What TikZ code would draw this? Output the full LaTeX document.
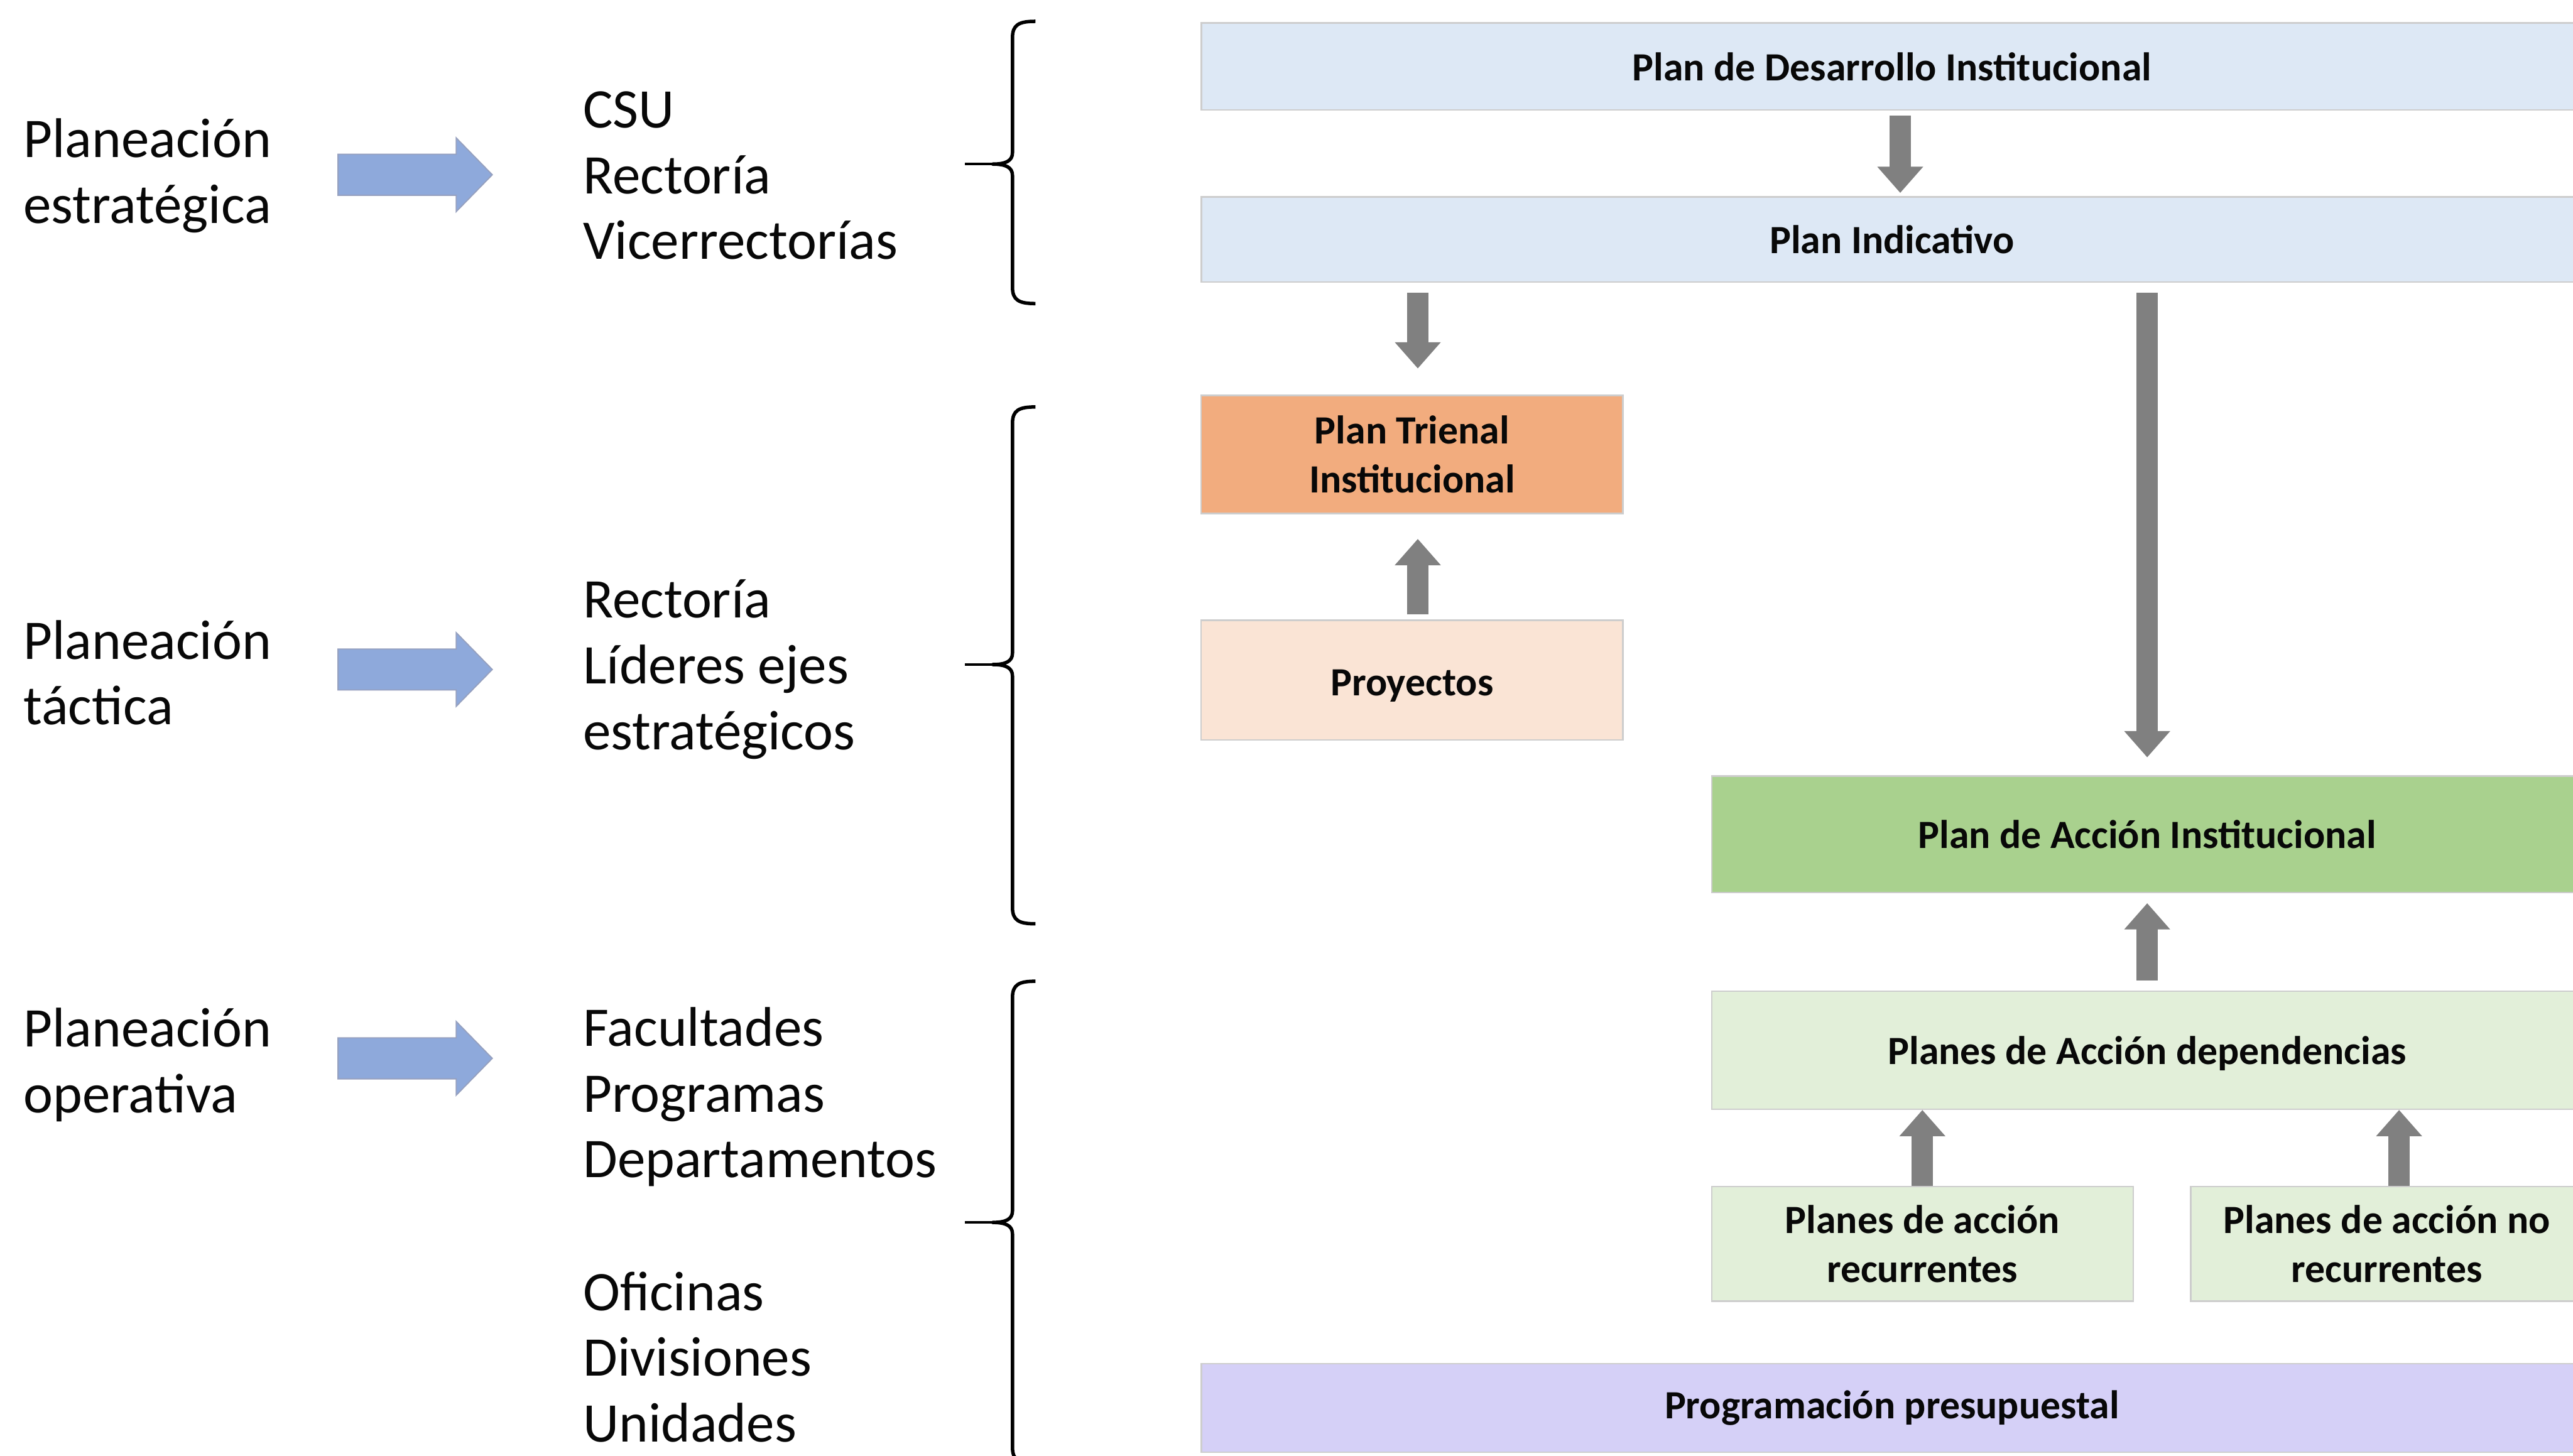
\documentclass[tikz,border=0pt]{standalone}
\usepackage{fontspec}
\setmainfont{Carlito}
\usetikzlibrary{arrows.meta}

\definecolor{textdark}{RGB}{8,8,8}
\definecolor{lightblue}{RGB}{221,232,245}
\definecolor{trienalorange}{RGB}{242,172,126}
\definecolor{peach}{RGB}{250,228,213}
\definecolor{midgreen}{RGB}{169,209,142}
\definecolor{palegreen}{RGB}{226,239,217}
\definecolor{lavender}{RGB}{213,208,247}
\definecolor{arrowgray}{RGB}{128,128,128}
\definecolor{boxline}{RGB}{205,205,205}
\definecolor{bluefill}{RGB}{142,169,219}
\definecolor{blueline}{RGB}{150,160,190}

\begin{document}
\begin{tikzpicture}[x=0.02cm,y=-0.02cm,
  lefttext/.style={anchor=west, inner sep=0pt, align=left, text=textdark,
    font=\fontsize{19.4pt}{22.8pt}\selectfont},
  box/.style={draw=boxline, line width=0.5pt, inner sep=0pt, align=center,
    text=textdark, font=\bfseries\fontsize{13.9pt}{17pt}\selectfont},
  grayarrow/.style={draw=arrowgray, line width=0.26cm,
    -{Triangle[width=0.54cm,length=0.32cm]}},
  bracestyle/.style={line width=1.2pt, line join=round},
  blockarrow/.pic={
    \fill[fill=bluefill, draw=blueline, line width=0.4pt]
      (0,-12.5) -- (72,-12.5) -- (72,-22.5) -- (94,0) -- (72,22.5)
      -- (72,12.5) -- (0,12.5) -- cycle;}
]
\useasboundingbox (0,0) rectangle (1568,887);
\clip (0,0) rectangle (1568,887);

% planning levels
\node[lefttext] (lvl1) at (14,107) {Planeación\\estratégica};
\node[lefttext] (lvl2) at (14,410) {Planeación\\táctica};
\node[lefttext] (lvl3) at (14,649) {Planeación\\operativa};

% block arrows from level to actors
\pic at (206,106.5) {blockarrow};
\pic at (206,408) {blockarrow};
\pic at (206,645) {blockarrow};

% actors
\node[lefttext] (act1) at (355,107) {CSU\\Rectoría\\Vicerrectorías};
\node[lefttext] (act2) at (355,408) {Rectoría\\Líderes ejes\\estratégicos};
\node[lefttext] (act3a) at (355,668.5) {Facultades\\Programas\\Departamentos};
\node[lefttext] (act3b) at (355,827) {Oficinas\\Divisiones\\Unidades};

% curly braces
\foreach \t/\m/\b in {13/100/185, 248/405/563, 598/745/892}{
  \draw[bracestyle] (631,\t) .. controls (621,\t) and (617,\t+2) .. (617,\t+10)
    -- (617,\m-7) .. controls (617,\m-2) and (613,\m) .. (605,\m)
    .. controls (613,\m) and (617,\m+2) .. (617,\m+7)
    -- (617,\b-10) .. controls (617,\b-2) and (621,\b) .. (631,\b);
  \draw[line width=0.9pt] (607,\m) -- (588,\m);
}

% plan boxes
\node[box, fill=lightblue, minimum width=16.84cm, minimum height=1.06cm]
  (pdi) at (1153,40.5) {Plan de Desarrollo Institucional};
\node[box, fill=lightblue, minimum width=16.84cm, minimum height=1.04cm]
  (pind) at (1153,146) {Plan Indicativo};
\node[box, fill=trienalorange, minimum width=5.14cm, minimum height=1.44cm]
  (trienal) at (860.5,277) {Plan Trienal\\Institucional};
\node[box, fill=peach, minimum width=5.14cm, minimum height=1.46cm]
  (proy) at (860.5,414.5) {\raisebox{-0.07cm}[\height][\depth]{Proyectos}};
\node[box, fill=midgreen, minimum width=10.62cm, minimum height=1.42cm]
  (pai) at (1308.5,508.5) {Plan de Acción Institucional};
\node[box, fill=palegreen, minimum width=10.62cm, minimum height=1.44cm]
  (pad) at (1308.5,640) {\raisebox{-0.04cm}[\height][\depth]{Planes de Acción dependencias}};
\node[box, fill=palegreen, minimum width=5.14cm, minimum height=1.40cm]
  (prec) at (1171.5,758) {Planes de acción\\recurrentes};
\node[box, fill=palegreen, minimum width=4.78cm, minimum height=1.40cm]
  (pnrec) at (1454.5,758) {Planes de acción no\\recurrentes};
\node[box, fill=lavender, minimum width=16.84cm, minimum height=1.08cm]
  (prog) at (1153,858) {Programación presupuestal};

% connectors
\draw[grayarrow, shorten <=0.06cm, shorten >=0.04cm]
  ([xshift=0.1cm]pdi.south) -- ([xshift=0.1cm]pind.north);
\draw[grayarrow, shorten <=0.12cm, shorten >=0.32cm]
  ([xshift=0.07cm]trienal.north |- pind.south) -- ([xshift=0.07cm]trienal.north);
\draw[grayarrow, shorten <=0.06cm, shorten >=0.3cm]
  ([xshift=0.07cm]proy.north) -- ([xshift=0.07cm]trienal.south);
\draw[grayarrow, shorten <=0.12cm, shorten >=0.22cm]
  (pai.north |- pind.south) -- (pai.north);
\draw[grayarrow, shorten <=0.12cm, shorten >=0.12cm]
  (pad.north) -- (pai.south);
\draw[grayarrow]
  (prec.north) -- (prec.north |- pad.south);
\draw[grayarrow]
  ([xshift=0.15cm]pnrec.north) -- ([xshift=0.15cm]pnrec.north |- pad.south);
\end{tikzpicture}
\end{document}
